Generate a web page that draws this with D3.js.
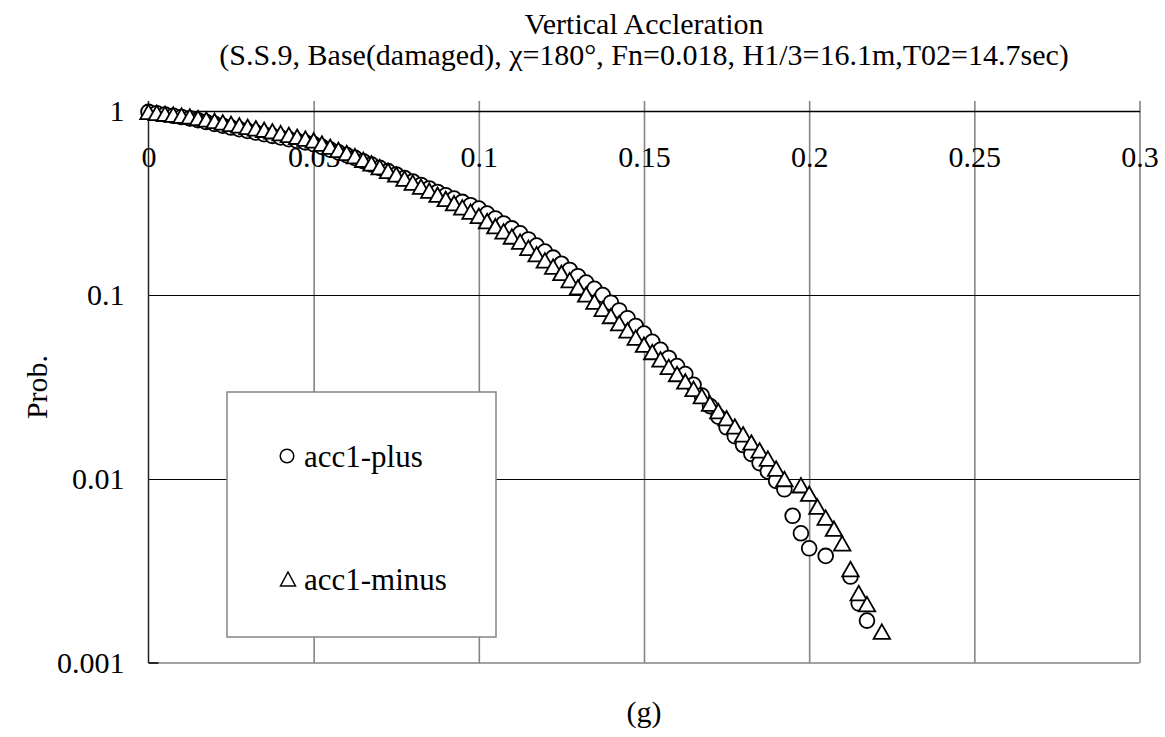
<!DOCTYPE html>
<html>
<head>
<meta charset="utf-8">
<script src="https://cdn.jsdelivr.net/npm/d3@7"></script>
<style>
  html, body { margin: 0; padding: 0; background: #fff; }
  svg { display: block; }
  text { font-family: "Liberation Serif", "Times New Roman", serif; fill: #000; }
</style>
</head>
<body>
<svg id="chart" width="1165" height="737"></svg>
<script>
// Exceedance probability of vertical acceleration (g), sampled every 0.0025 g
const accX = [
  0, 0.0025, 0.005, 0.0075, 0.01, 0.0125, 0.015, 0.0175, 0.02, 0.0225,
  0.025, 0.0275, 0.03, 0.0325, 0.035, 0.0375, 0.04, 0.0425, 0.045, 0.0475,
  0.05, 0.0525, 0.055, 0.0575, 0.06, 0.0625, 0.065, 0.0675, 0.07, 0.0725,
  0.075, 0.0775, 0.08, 0.0825, 0.085, 0.0875, 0.09, 0.0925, 0.095, 0.0975,
  0.1, 0.1025, 0.105, 0.1075, 0.11, 0.1125, 0.115, 0.1175, 0.12, 0.1225,
  0.125, 0.1275, 0.13, 0.1325, 0.135, 0.1375, 0.14, 0.1425, 0.145, 0.1475,
  0.15, 0.1525, 0.155, 0.1575, 0.16, 0.1625, 0.165, 0.1675, 0.17, 0.1725,
  0.175, 0.1775, 0.18, 0.1825, 0.185, 0.1875, 0.19, 0.1925
];

const plusProb = [
  0.9886, 0.9727, 0.9572, 0.9419, 0.9268, 0.9120, 0.8913, 0.8710, 0.8511, 0.8318,
  0.8128, 0.7962, 0.7798, 0.7638, 0.7482, 0.7328, 0.7178, 0.7031, 0.6887, 0.6745,
  0.6607, 0.6383, 0.6166, 0.5957, 0.5754, 0.5559, 0.5333, 0.5117, 0.4909, 0.4710,
  0.4519, 0.4325, 0.4140, 0.3963, 0.3793, 0.3631, 0.3483, 0.3342, 0.3206, 0.3076,
  0.2951, 0.2773, 0.2606, 0.2449, 0.2301, 0.2163, 0.2004, 0.1858, 0.1722, 0.1596,
  0.1479, 0.1368, 0.1265, 0.1169, 0.1081, 0.1000, 0.0908, 0.0824, 0.0748, 0.0679,
  0.0617, 0.0557, 0.0504, 0.0455, 0.0411, 0.0372, 0.0325, 0.0284, 0.0249, 0.0218,
  0.0191, 0.0171, 0.0153, 0.0137, 0.0122, 0.0110, 0.00977, 0.00879
];

const minusProb = [
  0.9886, 0.9772, 0.9661, 0.9550, 0.9441, 0.9333, 0.9162, 0.8995, 0.8831, 0.8670,
  0.8511, 0.8356, 0.8204, 0.8054, 0.7907, 0.7762, 0.7586, 0.7413, 0.7244, 0.7079,
  0.6918, 0.6653, 0.6397, 0.6152, 0.5916, 0.5689, 0.5433, 0.5188, 0.4955, 0.4732,
  0.4519, 0.4295, 0.4083, 0.3882, 0.3690, 0.3508, 0.3327, 0.3155, 0.2992, 0.2838,
  0.2692, 0.2523, 0.2366, 0.2218, 0.2080, 0.1950, 0.1803, 0.1667, 0.1542, 0.1426,
  0.1318, 0.1205, 0.1102, 0.1007, 0.0920, 0.0841, 0.0769, 0.0703, 0.0643, 0.0587,
  0.0537, 0.0490, 0.0447, 0.0407, 0.0372, 0.0339, 0.0309, 0.0282, 0.0257, 0.0234,
  0.0214, 0.0193, 0.0175, 0.0158, 0.0143, 0.0129, 0.0114, 0.0100
];

// Sparse tail of each series
const plusTailX = [0.195, 0.1975, 0.2, 0.205, 0.2125, 0.215, 0.2175];
const plusTailProb = [0.00631, 0.00507, 0.00420, 0.00382, 0.00295, 0.00211, 0.00170];
const minusTailX = [0.1975, 0.2, 0.2025, 0.205, 0.2075, 0.21, 0.2125, 0.215, 0.2175, 0.222];
const minusTailProb = [0.00925, 0.00832, 0.00708, 0.00617, 0.00537, 0.00447, 0.00324, 0.00240, 0.00209, 0.00148];

const xTicks = [0, 0.05, 0.1, 0.15, 0.2, 0.25, 0.3];
const xTickLabels = ["0", "0.05", "0.1", "0.15", "0.2", "0.25", "0.3"];
const yTicks = [1, 0.1, 0.01, 0.001];
const yTickLabels = ["1", "0.1", "0.01", "0.001"];

const titleLines = [
  "Vertical Accleration",
  "(S.S.9, Base(damaged), \u03C7=180\u00B0, Fn=0.018, H1/3=16.1m,T02=14.7sec)"
];
const seriesNames = ["acc1-plus", "acc1-minus"];

// ---- layout ----
const svg = d3.select("#chart");
const plotL = 148.5, plotR = 1139.5, plotT = 111, plotB = 663;
const fontSize = 30;
const legendFont = 31;
const serif = '"Liberation Serif", "Times New Roman", serif';

const x = d3.scaleLinear().domain([0, 0.3]).range([plotL, plotR]);
const y = d3.scaleLog().domain([0.001, 1]).range([plotB, plotT]);

svg.append("rect").attr("width", 1165).attr("height", 737).attr("fill", "#fff");

// vertical gridlines (grey), extending a little above the top axis
const vgrid = d3.axisBottom(x).tickValues(xTicks.slice(1)).tickSize(plotB - plotT + 10).tickFormat("");
svg.append("g")
  .attr("transform", `translate(0,${plotT - 10})`)
  .call(vgrid)
  .call(g => g.select(".domain").remove())
  .call(g => g.selectAll("line").attr("stroke", "#858585").attr("stroke-width", 1.6));

// horizontal gridlines (black)
const hgrid = d3.axisLeft(y).tickValues([0.1, 0.01]).tickSize(-(plotR - plotL)).tickFormat("");
svg.append("g")
  .attr("transform", `translate(${plotL},0)`)
  .call(hgrid)
  .call(g => g.select(".domain").remove())
  .call(g => g.selectAll("line").attr("stroke", "#000").attr("stroke-width", 1.2));

// bottom frame line (grey)
svg.append("line")
  .attr("x1", x(0)).attr("x2", x(0.3)).attr("y1", y(0.001)).attr("y2", y(0.001))
  .attr("stroke", "#858585").attr("stroke-width", 1.6);

// x axis crossing at Prob. = 1, labels beneath it
const xAxis = d3.axisBottom(x).tickValues(xTicks).tickSize(0).tickPadding(35)
  .tickFormat((d, i) => xTickLabels[i]);
svg.append("g")
  .attr("transform", `translate(0,${y(1)})`)
  .call(xAxis)
  .call(g => g.select(".domain").attr("stroke", "#000").attr("stroke-width", 1.3))
  .call(g => g.selectAll("text").attr("font-size", fontSize)
    .style("font-family", serif).attr("fill", "#000"));

// y axis (log)
const yAxis = d3.axisLeft(y).tickValues(yTicks).tickSize(0).tickPadding(24)
  .tickFormat((d, i) => yTickLabels[i]);
svg.append("g")
  .attr("transform", `translate(${plotL},0)`)
  .call(yAxis)
  .call(g => g.select(".domain").remove())
  .call(g => g.selectAll("text").attr("font-size", fontSize)
    .style("font-family", serif).attr("fill", "#000"));
svg.append("line")
  .attr("x1", x(0)).attr("x2", x(0)).attr("y1", plotT - 10).attr("y2", y(0.001))
  .attr("stroke", "#222").attr("stroke-width", 1.5);
svg.append("line")
  .attr("x1", x(0)).attr("x2", x(0) + 10).attr("y1", y(0.001)).attr("y2", y(0.001))
  .attr("stroke", "#000").attr("stroke-width", 1.5);

// titles
svg.append("text").attr("x", (plotL + plotR) / 2).attr("y", 34)
  .attr("text-anchor", "middle").attr("font-size", fontSize).text(titleLines[0]);
svg.append("text").attr("x", (plotL + plotR) / 2).attr("y", 65)
  .attr("text-anchor", "middle").attr("font-size", fontSize).text(titleLines[1]);
svg.append("text")
  .attr("transform", `translate(47,${(plotT + plotB) / 2}) rotate(-90)`)
  .attr("text-anchor", "middle").attr("font-size", fontSize).text("Prob.");
svg.append("text").attr("x", (plotL + plotR) / 2).attr("y", 722)
  .attr("text-anchor", "middle").attr("font-size", fontSize).text("(g)");

// markers
const R = 7.4;
const triW = 16.5, triH = 14.5;
function triPath(w, h) {
  const p = d3.path();
  p.moveTo(0, -h / 2); p.lineTo(w / 2, h / 2); p.lineTo(-w / 2, h / 2); p.closePath();
  return p.toString();
}

// legend box
const lg = svg.append("g");
lg.append("rect").attr("x", 227).attr("y", 392).attr("width", 269).attr("height", 245)
  .attr("fill", "#fff").attr("stroke", "#858585").attr("stroke-width", 1.5);
lg.append("circle").attr("cx", 287).attr("cy", 456).attr("r", 6.8)
  .attr("fill", "#fff").attr("stroke", "#000").attr("stroke-width", 1.5);
lg.append("text").attr("x", 304).attr("y", 467).attr("font-size", legendFont).text(seriesNames[0]);
lg.append("path").attr("d", triPath(15, 14)).attr("transform", "translate(288,579)")
  .attr("fill", "#fff").attr("stroke", "#000").attr("stroke-width", 1.5);
lg.append("text").attr("x", 304).attr("y", 590).attr("font-size", legendFont).text(seriesNames[1]);

const plusData = accX.map((v, i) => [v, plusProb[i]])
  .concat(plusTailX.map((v, i) => [v, plusTailProb[i]]));
const minusData = accX.map((v, i) => [v, minusProb[i]])
  .concat(minusTailX.map((v, i) => [v, minusTailProb[i]]));

svg.append("g").selectAll("circle").data(plusData).join("circle")
  .attr("cx", d => x(d[0])).attr("cy", d => y(d[1])).attr("r", R)
  .attr("fill", "#fff").attr("stroke", "#000").attr("stroke-width", 1.8);

svg.append("g").selectAll("path").data(minusData).join("path")
  .attr("d", triPath(triW, triH))
  .attr("transform", d => `translate(${x(d[0])},${y(d[1])})`)
  .attr("fill", "#fff").attr("stroke", "#000").attr("stroke-width", 1.8)
  .attr("stroke-linejoin", "miter");
</script>
</body>
</html>
